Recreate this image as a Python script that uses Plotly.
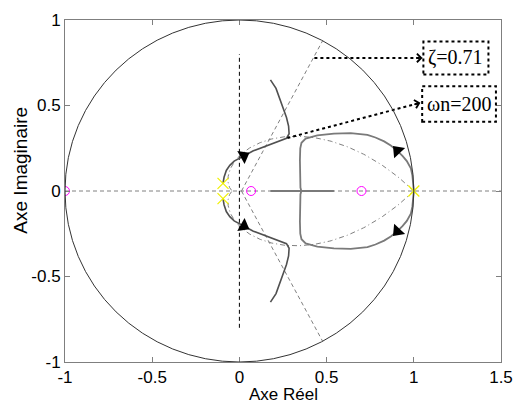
import numpy as np
import plotly.graph_objects as go

# ---------------- data ----------------
# open-loop poles and zeros (z-plane)
pole_re = [-0.094, -0.094, 1.0]
pole_im = [0.045, -0.045, 0.0]
zero_re = [-1.0, 0.067, 0.70]
zero_im = [0.0, 0.0, 0.0]

# upper branch leaving the complex pole (lower branch = conjugate)
left_re = [-0.094, -0.088, -0.075, -0.055, -0.03, 0.0, 0.025, 0.08, 0.15,
           0.22, 0.27, 0.285, 0.282, 0.27, 0.24, 0.21, 0.178]
left_im = [0.045, 0.08, 0.12, 0.15, 0.175, 0.19, 0.205, 0.235, 0.262,
           0.288, 0.308, 0.335, 0.38, 0.43, 0.52, 0.60, 0.65]

# upper branch leaving the pole at z = 1 (lower branch = conjugate)
right_re = [1.0, 0.998, 0.992, 0.983, 0.96, 0.935, 0.906, 0.87, 0.83, 0.78,
            0.734, 0.638, 0.542, 0.447, 0.38, 0.356, 0.349, 0.347, 0.347,
            0.35, 0.355]
right_im = [0.0, 0.045, 0.09, 0.133, 0.175, 0.205, 0.235, 0.265, 0.29,
            0.313, 0.328, 0.338, 0.336, 0.325, 0.306, 0.282, 0.25, 0.18,
            0.08, 0.02, 0.0]

# part of the locus lying on the real axis
real_seg_re = [0.178, 0.542]
real_seg_im = [0.0, 0.0]

# direction arrows on the locus
arrow_re = [0.025, 0.025, 0.906, 0.906]
arrow_im = [0.205, -0.205, 0.235, -0.235]
arrow_angle = [61, 119, -43, -137]

# grid parameters
ZETA = 0.71
WN_LABEL = 200
radial_deg = 61.5
radial_start = 0.012

# annotation pointers
zeta_ptr_x = [0.43, 1.05]
zeta_ptr_y = [0.778, 0.778]
wn_ptr_x = [0.275, 1.038]
wn_ptr_y = [0.31, 0.516]

x_ticks = [-1, -0.5, 0, 0.5, 1, 1.5]
x_ticklabels = ["-1", "-0.5", "0", "0.5", "1", "1.5"]
y_ticks = [-1, -0.5, 0, 0.5, 1]
y_ticklabels = ["-1", "-0.5", "0", "0.5", "1"]

# ---------------- figure ----------------
fig = go.Figure()

GRAY = "#808080"

# real axis (dashed)
fig.add_trace(go.Scatter(x=[-1, 1.5], y=[0, 0], mode="lines",
                         line=dict(color=GRAY, width=1, dash="4px,3px"),
                         hoverinfo="skip"))
# imaginary axis segment (dashed black)
fig.add_trace(go.Scatter(x=[0, 0], y=[-0.8, 0.8], mode="lines",
                         line=dict(color="black", width=1, dash="4px,3px"),
                         hoverinfo="skip"))

# constant damping spiral
theta = np.linspace(0, np.pi, 300)
r = np.exp(-theta * ZETA / np.sqrt(1 - ZETA ** 2))
for s in (1, -1):
    fig.add_trace(go.Scatter(x=r * np.cos(theta), y=s * r * np.sin(theta),
                             mode="lines",
                             line=dict(color=GRAY, width=1, dash="5px,3px,1px,3px"),
                             hoverinfo="skip"))

# radial lines
a = np.deg2rad(radial_deg)
for s in (1, -1):
    fig.add_trace(go.Scatter(x=[radial_start, np.cos(a)], y=[0, s * np.sin(a)],
                             mode="lines",
                             line=dict(color=GRAY, width=1, dash="4px,3px"),
                             hoverinfo="skip"))

# root-locus branches
for s in (1, -1):
    fig.add_trace(go.Scatter(x=left_re, y=[s * v for v in left_im], mode="lines",
                             line=dict(color="#505050", width=1.6),
                             hoverinfo="skip"))
    fig.add_trace(go.Scatter(x=right_re, y=[s * v for v in right_im], mode="lines",
                             line=dict(color="#7a7a7a", width=1.8),
                             hoverinfo="skip"))
fig.add_trace(go.Scatter(x=real_seg_re, y=real_seg_im, mode="lines",
                         line=dict(color="#7a7a7a", width=1.8), hoverinfo="skip"))

# annotation pointer lines (dotted)
fig.add_trace(go.Scatter(x=zeta_ptr_x, y=zeta_ptr_y, mode="lines",
                         line=dict(color="black", width=2, dash="3px,3px"),
                         hoverinfo="skip"))
fig.add_trace(go.Scatter(x=wn_ptr_x, y=wn_ptr_y, mode="lines",
                         line=dict(color="black", width=2, dash="3px,3px"),
                         hoverinfo="skip"))

# arrows on the locus
fig.add_trace(go.Scatter(x=arrow_re, y=arrow_im, mode="markers",
                         marker=dict(symbol="triangle-up", size=13, color="black",
                                     angle=arrow_angle, line=dict(width=0)),
                         hoverinfo="skip"))

# zeros and poles
fig.add_trace(go.Scatter(x=zero_re, y=zero_im, mode="markers",
                         marker=dict(symbol="circle-open", size=9, color="#ff00ff",
                                     line=dict(color="#ff00ff", width=1)),
                         hoverinfo="skip"))
fig.add_trace(go.Scatter(x=pole_re, y=pole_im, mode="markers",
                         marker=dict(symbol="x-thin-open", size=11, color="#f0f000",
                                     line=dict(color="#f0f000", width=1.2)),
                         hoverinfo="skip"))

# unit circle
shapes = [dict(type="circle", xref="x", yref="y", x0=-1, y0=-1, x1=1, y1=1,
               line=dict(color="#333333", width=1), layer="above")]
# label boxes (dotted)
shapes.append(dict(type="rect", xref="x", yref="y", x0=1.055, x1=1.428,
                   y0=0.681, y1=0.874, line=dict(color="black", width=2, dash="3px,3px")))
shapes.append(dict(type="rect", xref="x", yref="y", x0=1.048, x1=1.471,
                   y0=0.405, y1=0.613, line=dict(color="black", width=2, dash="3px,3px")))

annotations = [
    dict(x=1.241, y=0.778, xref="x", yref="y", text=f"ζ={ZETA}", showarrow=False,
         font=dict(family="Liberation Serif", size=20, color="black")),
    dict(x=1.26, y=0.509, xref="x", yref="y", text=f"ωn={WN_LABEL}", showarrow=False,
         font=dict(family="Liberation Serif", size=20, color="black")),
    # arrowheads for pointers
    dict(x=zeta_ptr_x[1], y=zeta_ptr_y[1], xref="x", yref="y", text="",
         showarrow=True, ax=-8, ay=0, arrowhead=4, arrowsize=1.1, arrowwidth=1.5,
         arrowcolor="black", standoff=0),
    dict(x=wn_ptr_x[1], y=wn_ptr_y[1], xref="x", yref="y", text="",
         showarrow=True, ax=-7.7, ay=2, arrowhead=4, arrowsize=1.1, arrowwidth=1.5,
         arrowcolor="black", standoff=0),
    # axis titles
    dict(x=0.5, y=-0.094, xref="paper", yref="paper", text="Axe Réel",
         showarrow=False, xanchor="center", yanchor="middle",
         font=dict(family="Liberation Sans", size=17, color="black")),
    dict(x=-0.102, y=0.561, xref="paper", yref="paper", text="Axe Imaginaire",
         showarrow=False, xanchor="center", yanchor="middle", textangle=-90,
         font=dict(family="Liberation Sans", size=19, color="black")),
]

axis_common = dict(showgrid=False, zeroline=False, showline=True, mirror="ticks",
                   linecolor="#7f7f7f", linewidth=1, ticks="inside", ticklen=5,
                   automargin=False,
                   tickcolor="#7f7f7f", tickfont=dict(family="Liberation Sans",
                                                       size=17, color="black"))

fig.update_layout(
    width=516, height=410,
    margin=dict(l=65, r=15, t=20, b=48),
    plot_bgcolor="white", paper_bgcolor="white",
    showlegend=False,
    xaxis=dict(range=[-1, 1.5], tickvals=x_ticks, ticktext=x_ticklabels,
               ticklabelstandoff=0, **axis_common),
    yaxis=dict(range=[-1, 1], tickvals=y_ticks, ticktext=y_ticklabels,
               ticklabelstandoff=0, **axis_common),
    shapes=shapes,
    annotations=annotations,
)

fig.write_html("out.html",
               config={"displayModeBar": False},
               post_script="document.body.style.margin='0';"
                           "document.body.style.padding='0';")
